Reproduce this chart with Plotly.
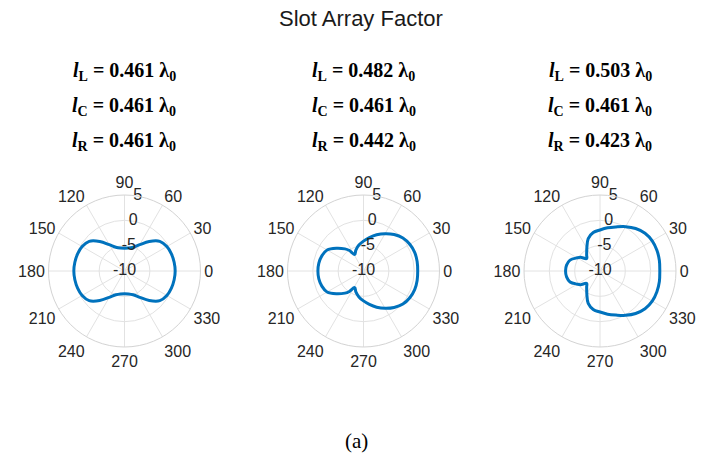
import plotly.graph_objects as go

# ---- data -------------------------------------------------------------
# Half-plane patterns (0..180 deg, dB); each pattern is symmetric about 0 deg
theta_a = [0, 10, 20, 30, 40, 50, 60, 70, 80, 90, 100, 110, 120, 130, 140, 150, 160, 170, 180]
af_a = [0.0, -0.05, -0.15, -0.35, -0.9, -2.4, -4.0, -5.0, -5.4, -5.5,
        -5.4, -5.0, -4.0, -2.4, -0.9, -0.35, -0.15, -0.05, 0.0]

theta_b = [0, 10, 20, 30, 40, 50, 60, 70, 80, 90, 100, 110, 118, 125, 130, 140, 150, 160, 170, 180]
af_b = [0.7, 0.75, 0.75, 0.55, 0.15, -0.6, -1.5, -2.4, -3.3, -4.1,
        -4.8, -5.6, -6.3, -5.0, -4.3, -3.0, -1.7, -1.25, -1.05, -1.0]

theta_c = [0, 10, 20, 30, 40, 50, 60, 70, 80, 90, 100, 110, 120, 130, 137, 145, 150, 160, 170, 180]
af_c = [1.8, 1.9, 1.95, 1.9, 1.6, 0.95, 0.1, -0.75, -1.35, -1.9,
        -2.3, -3.2, -4.8, -5.9, -6.4, -5.3, -4.8, -3.7, -3.3, -3.2]

slot_L = ["0.461", "0.482", "0.503"]
slot_C = ["0.461", "0.461", "0.461"]
slot_R = ["0.461", "0.442", "0.423"]

r_ticks = [5, 0, -5, -10]
r_tick_text = ["5", "0", "-5", "-10"]
ang_ticks = list(range(0, 360, 30))

title_text = "Slot Array Factor"
caption_text = "(a)"

# ---- layout geometry (pixels) ----------------------------------------
W, H = 703, 460
centers_x = [124.5, 363.5, 600.0]
center_y = 271.0
radius = 76.0
line_rows = [71, 106, 141]

LINE_COLOR = "#0072BD"
TEXT_COLOR = "#262626"
GRID_COLOR = "#e2e2e2"


def full_circle(theta_half, vals_half):
    th = list(theta_half) + [360 - t for t in reversed(theta_half[:-1])]
    rv = list(vals_half) + list(reversed(vals_half[:-1]))
    return th, rv


fig = go.Figure()
patterns = [(theta_a, af_a), (theta_b, af_b), (theta_c, af_c)]

for i, (th_half, v_half) in enumerate(patterns):
    name = "polar" if i == 0 else f"polar{i + 1}"
    th, rv = full_circle(th_half, v_half)
    fig.add_trace(go.Scatterpolar(
        theta=th, r=rv, mode="lines",
        line=dict(color=LINE_COLOR, width=3, shape="spline", smoothing=1.0),
        subplot=name, showlegend=False, hoverinfo="skip",
    ))
    # radial tick labels along the 80 deg spoke
    fig.add_trace(go.Scatterpolar(
        theta=[80] * len(r_ticks), r=r_ticks, mode="text", text=r_tick_text,
        textposition="middle center",
        textfont=dict(family="Liberation Sans, Arial", size=16, color=TEXT_COLOR),
        subplot=name, showlegend=False, hoverinfo="skip", cliponaxis=False,
    ))

    cx = centers_x[i]
    dom_x = [(cx - radius) / W, (cx + radius) / W]
    dom_y = [1 - (center_y + radius) / H, 1 - (center_y - radius) / H]
    fig.update_layout(**{name: dict(
        domain=dict(x=dom_x, y=dom_y),
        bgcolor="white",
        radialaxis=dict(
            range=[-10, 5], tickvals=r_ticks, showticklabels=False, ticks="",
            showline=False, gridcolor=GRID_COLOR, gridwidth=1, angle=80,
        ),
        angularaxis=dict(
            direction="counterclockwise", rotation=0,
            tickvals=ang_ticks, ticktext=[str(a) for a in ang_ticks],
            ticks="", showline=True, linecolor="#d3d3d3", linewidth=1,
            gridcolor=GRID_COLOR, gridwidth=1,
            tickfont=dict(family="Liberation Sans, Arial", size=16, color=TEXT_COLOR),
        ),
    )})

    # slot-length labels above each pattern
    rows = [("L", slot_L[i]), ("C", slot_C[i]), ("R", slot_R[i])]
    for (sub, val), py in zip(rows, line_rows):
        fig.add_annotation(
            x=cx / W, y=1 - py / H, xref="paper", yref="paper",
            xanchor="center", yanchor="middle", showarrow=False,
            text=f"<b><i>l</i><sub>{sub}</sub> = {val} λ<sub>0</sub></b>",
            font=dict(family="Liberation Serif, Times New Roman", size=20, color="black"),
        )

fig.add_annotation(
    x=361 / W, y=1 - 19 / H, xref="paper", yref="paper",
    xanchor="center", yanchor="middle", showarrow=False, text=title_text,
    font=dict(family="Liberation Sans, Arial", size=22, color="#1a1a1a"),
)
fig.add_annotation(
    x=356 / W, y=1 - 441 / H, xref="paper", yref="paper",
    xanchor="center", yanchor="middle", showarrow=False, text=caption_text,
    font=dict(family="Liberation Serif, Times New Roman", size=21, color="black"),
)

fig.update_layout(
    width=W, height=H,
    margin=dict(l=0, r=0, t=0, b=0),
    paper_bgcolor="white",
    showlegend=False,
)

fig.write_html("out.html")
